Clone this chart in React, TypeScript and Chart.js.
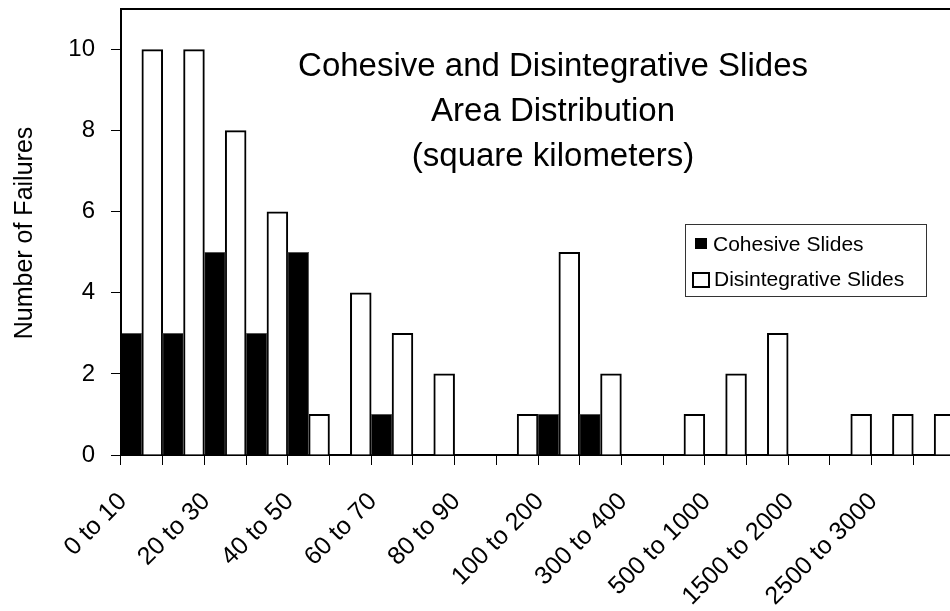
import React, { useEffect, useRef } from "react";
import { Chart, registerables } from "chart.js";

Chart.register(...registerables);

const categories = [
  "0 to 10", "10 to 20", "20 to 30", "30 to 40", "40 to 50",
  "50 to 60", "60 to 70", "70 to 80", "80 to 90", "90 to 100",
  "100 to 200", "200 to 300", "300 to 400", "400 to 500", "500 to 1000",
  "1000 to 1500", "1500 to 2000", "2000 to 2500", "2500 to 3000", "3000 to 3500",
];
const cohesive = [3, 3, 5, 3, 5, 0, 1, 0, 0, 0, 1, 1, 0, 0, 0, 0, 0, 0, 0, 0];
const disintegrative = [10, 10, 8, 6, 1, 4, 3, 2, 0, 1, 5, 2, 0, 1, 2, 3, 0, 1, 1, 1];
const seriesNames = ["Cohesive Slides", "Disintegrative Slides"];
const titleLines = ["Cohesive and Disintegrative Slides", "Area Distribution", "(square kilometers)"];
const yAxisTitle = "Number of Failures";
const yMax = 11;
const yStep = 2;

const FONT = "'Liberation Sans', Arial, Helvetica, sans-serif";

const decorPlugin = {
  id: "decor",
  afterDraw(chart: any) {
    const ctx = chart.ctx as CanvasRenderingContext2D;
    const a = chart.chartArea;
    ctx.save();
    // frame
    ctx.strokeStyle = "#000";
    ctx.lineWidth = 2;
    ctx.beginPath();
    ctx.moveTo(a.left, a.bottom);
    ctx.lineTo(a.left, a.top);
    ctx.lineTo(a.right, a.top);
    ctx.lineTo(a.right, a.bottom);
    ctx.stroke();

    // title
    ctx.fillStyle = "#000";
    ctx.font = `33px ${FONT}`;
    ctx.textAlign = "center";
    ctx.textBaseline = "alphabetic";
    const cx = a.left + (a.right - a.left) * 0.518;
    const base = a.top + 67;
    titleLines.forEach((t, i) => ctx.fillText(t, cx, base + i * 45));

    // y axis title
    ctx.save();
    ctx.font = `25px ${FONT}`;
    ctx.translate(32, (a.top + a.bottom) / 2 + 1);
    ctx.rotate(-Math.PI / 2);
    ctx.textAlign = "center";
    ctx.textBaseline = "alphabetic";
    ctx.fillText(yAxisTitle, 0, 0);
    ctx.restore();

    // legend
    const lx = 685, ly = 224, lw = 241, lh = 72;
    ctx.fillStyle = "#fff";
    ctx.fillRect(lx, ly, lw, lh);
    ctx.strokeStyle = "#333";
    ctx.lineWidth = 1;
    ctx.strokeRect(lx + 0.5, ly + 0.5, lw, lh);
    ctx.font = `21px ${FONT}`;
    ctx.textAlign = "left";
    ctx.fillStyle = "#000";
    ctx.fillRect(695, 238, 12, 11);
    ctx.fillText(seriesNames[0], 713, 251);
    ctx.lineWidth = 2;
    ctx.strokeStyle = "#000";
    ctx.strokeRect(693, 273, 16, 14);
    ctx.fillText(seriesNames[1], 714, 286);
    ctx.restore();
  },
};

export default function App() {
  const ref = useRef<HTMLCanvasElement | null>(null);
  useEffect(() => {
    const canvas = ref.current!;
    const chart = new Chart(canvas, {
      type: "bar",
      data: {
        labels: categories,
        datasets: [
          {
            label: seriesNames[0],
            data: cohesive,
            backgroundColor: "#000",
            borderColor: "#555",
            borderWidth: 1,
            categoryPercentage: 1,
            barPercentage: 1,
          },
          {
            label: seriesNames[1],
            data: disintegrative,
            backgroundColor: "#fff",
            borderColor: "#000",
            borderWidth: 2,
            categoryPercentage: 1,
            barPercentage: 1,
          },
        ],
      },
      options: {
        responsive: false,
        animation: false,
        devicePixelRatio: 1,
        layout: { padding: { top: 9, right: 5, left: 0, bottom: 0 } },
        plugins: { legend: { display: false }, tooltip: { enabled: false } },
        scales: {
          x: {
            afterFit: (s: any) => {
              s.height = 156;
              s.paddingLeft = 0;
              s.paddingRight = 0;
            },
            grid: { display: true, offset: true, drawOnChartArea: false, drawTicks: true, tickLength: 10, color: "#000", lineWidth: 1 },
            border: { display: true, color: "#000", width: 2 },
            ticks: {
              autoSkip: false,
              minRotation: 45,
              maxRotation: 45,
              padding: 22,
              labelOffset: -19,
              color: "#000",
              font: { family: FONT, size: 25 },
              callback: function (this: any, v: any, i: number) {
                return i % 2 === 0 ? categories[i] : "";
              },
            },
          },
          y: {
            min: 0,
            max: yMax,
            afterFit: (s: any) => {
              s.width = 121;
              s.paddingTop = 0;
              s.paddingBottom = 0;
            },
            grid: { display: true, drawOnChartArea: false, drawTicks: true, tickLength: 10, color: "#000", lineWidth: 1 },
            border: { display: true, color: "#000", width: 2 },
            ticks: {
              stepSize: yStep,
              includeBounds: false,
              padding: 16,
              color: "#000",
              font: { family: FONT, size: 24 },
            },
          },
        },
      },
      plugins: [decorPlugin],
    } as any);
    return () => chart.destroy();
  }, []);
  return (
    <div style={{ position: "fixed", left: 0, top: 0, width: 950, height: 611, overflow: "hidden", background: "#fff" }}>
      <canvas ref={ref} width={960} height={611} style={{ display: "block", width: 960, height: 611 }} />
    </div>
  );
}
